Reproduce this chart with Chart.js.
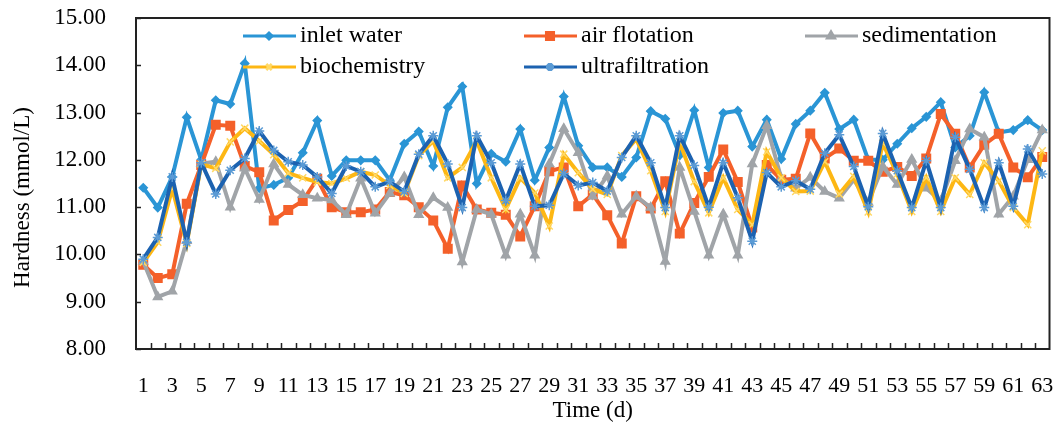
<!DOCTYPE html>
<html>
<head>
<meta charset="utf-8">
<title>Hardness</title>
<script src="https://cdn.jsdelivr.net/npm/chart.js@4.4.1/dist/chart.umd.min.js"></script>
<style>
    body { margin: 0; background: #fff; }
    canvas { display: block; }
</style>
</head>
<body>
<canvas id="grafico" width="1057" height="427"></canvas>
<script>
// giorni 1..63
const giorni = [];
for (let i = 1; i <= 63; i++) giorni.push(String(i));

const yTicks = [8, 9, 10, 11, 12, 13, 14, 15];

const inletWater = [11.41, 10.99, 11.64, 12.90, 12.00, 13.26, 13.18, 14.04, 11.40, 11.47,
    11.62, 12.15, 12.83, 11.66, 11.99, 11.99, 11.99, 11.57, 12.34, 12.60,
    11.87, 13.11, 13.55, 11.50, 12.13, 11.96, 12.65, 11.57, 12.26, 13.34,
    12.30, 11.84, 11.84, 11.64, 12.05, 13.03, 12.87, 12.10, 13.05, 11.84,
    12.99, 13.04, 12.28, 12.85, 12.02, 12.76, 13.04, 13.42, 12.65, 12.85,
    12.00, 12.00, 12.34, 12.67, 12.91, 13.22, 12.26, 12.51, 13.43, 12.58,
    12.63, 12.84, 12.63];

const airFlotation = [9.78, 9.50, 9.58, 11.07, 11.89, 12.74, 12.72, 11.87, 11.74, 10.72,
    10.94, 11.13, 11.60, 11.00, 10.89, 10.89, 10.95, 11.32, 11.25, 11.00,
    10.72, 10.12, 11.46, 10.95, 10.88, 10.84, 10.38, 11.02, 11.76, 11.84,
    11.02, 11.27, 10.83, 10.23, 11.23, 10.97, 11.55, 10.44, 11.09, 11.64,
    12.22, 11.53, 10.57, 11.89, 11.58, 11.60, 12.56, 12.03, 12.24, 11.98,
    11.98, 11.75, 11.85, 11.66, 12.03, 12.97, 12.55, 11.84, 12.32, 12.55,
    11.84, 11.63, 12.06];

const sedimentation = [9.85, 9.10, 9.22, 10.29, 11.92, 11.96, 11.00, 11.82, 11.16, 11.91,
    11.48, 11.26, 11.19, 11.15, 10.84, 11.61, 10.87, 11.29, 11.64, 10.84,
    11.20, 10.99, 9.84, 10.95, 10.85, 9.98, 10.85, 9.98, 11.91, 12.66,
    12.15, 11.23, 11.66, 10.85, 11.23, 10.99, 9.85, 11.84, 10.91, 9.98,
    10.85, 9.98, 11.91, 12.72, 11.61, 11.40, 11.63, 11.33, 11.19, 11.58,
    11.10, 11.86, 11.48, 12.01, 11.40, 11.13, 11.98, 12.65, 12.48, 10.85,
    11.23, 12.00, 12.63];

const biochemistry = [9.83, 10.26, 11.39, 10.23, 11.91, 11.82, 12.38, 12.67, 12.40, 12.11,
    11.72, 11.62, 11.53, 11.50, 11.61, 11.75, 11.68, 11.46, 11.29, 12.09,
    12.40, 11.62, 11.84, 12.40, 11.62, 10.95, 11.62, 11.30, 10.60, 12.12,
    11.73, 11.38, 11.27, 12.09, 12.44, 11.77, 10.91, 12.37, 11.54, 10.88,
    11.62, 10.95, 10.63, 12.17, 11.62, 11.33, 11.34, 11.96, 11.28, 11.65,
    10.90, 12.35, 11.70, 10.91, 11.62, 10.91, 11.62, 11.27, 11.94, 11.55,
    10.99, 10.63, 12.19];

const ultrafiltration = [9.90, 10.36, 11.64, 10.26, 11.94, 11.28, 11.78, 12.03, 12.61, 12.20,
    11.96, 11.89, 11.64, 11.29, 11.87, 11.75, 11.43, 11.54, 11.33, 12.12,
    12.51, 11.91, 10.99, 12.51, 11.94, 11.14, 11.91, 11.02, 11.04, 11.71,
    11.46, 11.52, 11.34, 12.05, 12.51, 11.94, 10.99, 12.51, 11.88, 11.00,
    11.94, 11.20, 10.28, 11.73, 11.43, 11.56, 11.38, 12.14, 12.53, 11.86,
    11.01, 12.56, 11.77, 10.99, 11.98, 10.99, 12.48, 11.80, 10.99, 11.94,
    11.02, 12.23, 11.70];

const serif = "'Liberation Serif', 'Times New Roman', serif";
Chart.defaults.font.family = serif;
Chart.defaults.color = "#000";

function serie(label, data, color, markerColor, style, radius, order) {
    return {
        label: label,
        data: data,
        borderColor: color,
        backgroundColor: markerColor,
        borderWidth: 4,
        tension: 0,
        pointStyle: style,
        pointRadius: radius,
        pointBackgroundColor: markerColor,
        pointBorderColor: markerColor,
        pointBorderWidth: 1.5,
        order: order
    };
}

// legenda a griglia dentro l'area del grafico, come nell'originale
const legendaPlugin = {
    id: "legendaGriglia",
    afterDraw(chart) {
        const ctx = chart.ctx;
        const area = chart.chartArea;
        const pos = [[0, 0], [1, 0], [2, 0], [0, 1], [1, 1]];
        const colX = [107, 388, 669];
        const rowY = [18, 49];
        const raggi = [3, 5, 4, 4, 4];
        ctx.save();
        chart.data.datasets.forEach((ds, i) => {
            const x = area.left + colX[pos[i][0]];
            const y = area.top + rowY[pos[i][1]];
            ctx.strokeStyle = ds.borderColor;
            ctx.lineWidth = 3;
            ctx.beginPath();
            ctx.moveTo(x, y);
            ctx.lineTo(x + 53, y);
            ctx.stroke();
            ctx.fillStyle = ds.pointBackgroundColor;
            ctx.strokeStyle = ds.pointBorderColor;
            Chart.helpers.drawPoint(ctx, { pointStyle: ds.pointStyle, radius: raggi[i], rotation: 0, borderWidth: 1.5 }, x + 26, y);
            ctx.fillStyle = "#000";
            ctx.font = "24px " + serif;
            ctx.textBaseline = "middle";
            ctx.textAlign = "left";
            ctx.fillText(ds.label, x + 57, y);
        });

        // titolo asse y, un po' sotto il centro come nell'originale
        ctx.save();
        ctx.translate(area.left - 113, (area.top + area.bottom) / 2 + 14);
        ctx.rotate(-Math.PI / 2);
        ctx.font = "23px " + serif;
        ctx.textAlign = "center";
        ctx.textBaseline = "middle";
        ctx.fillText("Hardness (mmol/L)", 0, 0);
        ctx.restore();
        ctx.restore();
    }
};

// bordo dell'area e tacche interne
const bordoPlugin = {
    id: "bordoArea",
    afterDatasetsDraw(chart) {
        const ctx = chart.ctx;
        const area = chart.chartArea;
        const yScale = chart.scales.y;
        ctx.save();
        ctx.strokeStyle = "#222";
        ctx.lineWidth = 1.5;
        ctx.beginPath();
        yTicks.forEach(v => {
            const py = Math.round(yScale.getPixelForValue(v)) + 0.5;
            ctx.moveTo(area.left, py);
            ctx.lineTo(area.left + 5, py);
        });
        const passo = (area.right - area.left) / giorni.length;
        for (let k = 1; k < giorni.length; k++) {
            const px = Math.round(area.left + k * passo) + 0.5;
            ctx.moveTo(px, area.bottom);
            ctx.lineTo(px, area.bottom - 6);
        }
        ctx.stroke();
        ctx.lineWidth = 2;
        ctx.strokeRect(area.left, area.top, area.right - area.left, area.bottom - area.top);
        ctx.restore();
    }
};

const ctx = document.getElementById("grafico").getContext("2d");
new Chart(ctx, {
    type: "line",
    data: {
        labels: giorni,
        datasets: [
            serie("inlet water", inletWater, "#2A95D5", "#2A95D5", "rectRot", 4, 4),
            serie("air flotation", airFlotation, "#F4602A", "#F4602A", "rect", 6, 3),
            serie("sedimentation", sedimentation, "#A0A4A8", "#A0A4A8", "triangle", 5, 2),
            serie("biochemistry", biochemistry, "#FDB714", "#FFD966", "crossRot", 5, 1),
            serie("ultrafiltration", ultrafiltration, "#1C62B0", "#5B9BD5", "star", 5, 0)
        ]
    },
    options: {
        responsive: false,
        animation: false,
        layout: { padding: { top: 18, right: 7, left: 0, bottom: 0 } },
        plugins: {
            legend: { display: false },
            tooltip: { enabled: false }
        },
        scales: {
            x: {
                type: "category",
                offset: true,
                grid: { display: false, drawTicks: false },
                border: { display: false },
                ticks: {
                    autoSkip: false,
                    maxRotation: 0,
                    padding: 24,
                    font: { size: 22 },
                    callback: function (v, i) { return i % 2 === 0 ? giorni[i] : ""; }
                },
                title: {
                    display: true,
                    text: "Time (d)",
                    font: { size: 23 },
                    padding: { top: 0, bottom: 2 }
                },
                afterFit: function (s) {
                    s.height = 78;
                    s.paddingLeft = 0;
                    s.paddingRight = 0;
                }
            },
            y: {
                min: 8,
                max: 15,
                grid: { display: false, drawTicks: false },
                border: { display: false },
                ticks: {
                    stepSize: 1,
                    padding: 30,
                    font: { size: 23 },
                    callback: function (v) { return Number(v).toFixed(2); }
                },
                afterFit: function (s) {
                    s.width = 136;
                    s.paddingTop = 0;
                    s.paddingBottom = 0;
                }
            }
        }
    },
    plugins: [bordoPlugin, legendaPlugin]
});
</script>
</body>
</html>
